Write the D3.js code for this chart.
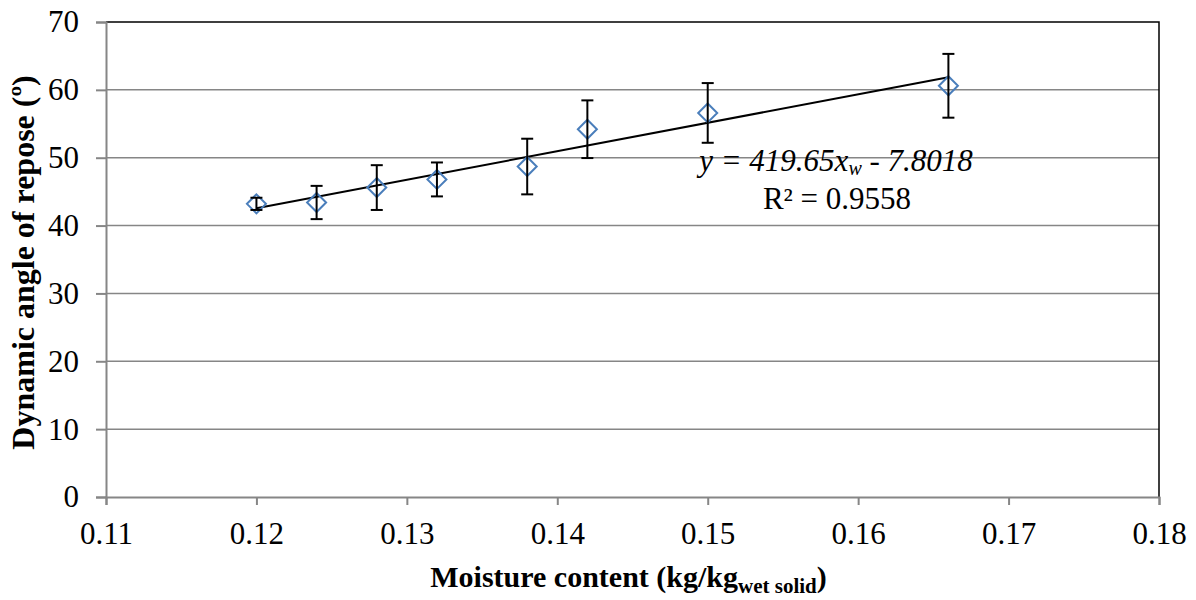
<!DOCTYPE html>
<html><head><meta charset="utf-8">
<script src="https://cdn.jsdelivr.net/npm/d3@7"></script>
<style>body{margin:0;background:#fff}svg{display:block}</style>
</head><body>
<script>
const moisture = [0.12, 0.124, 0.128, 0.132, 0.138, 0.142, 0.15, 0.166];
const angle = [43.2, 43.4, 45.6, 46.8, 48.7, 54.2, 56.6, 60.6];
const errorBar = [0.9, 2.45, 3.3, 2.5, 4.1, 4.25, 4.4, 4.7];
const slope = 419.65, intercept = -7.8018;
const xTicks = [0.11, 0.12, 0.13, 0.14, 0.15, 0.16, 0.17, 0.18];
const yTicks = [0, 10, 20, 30, 40, 50, 60, 70];

const W = 1196, H = 600;
const m = {left: 106, right: W - 1159, top: 22, bottom: H - 497};
const svg = d3.select("body").append("svg").attr("width", W).attr("height", H);
const x = d3.scaleLinear().domain([0.11, 0.18]).range([m.left, W - m.right]);
const y = d3.scaleLinear().domain([0, 70]).range([H - m.bottom, m.top]);
const font = "'Liberation Serif', 'Times New Roman', serif";
const gray = "#868686";

// gridlines
svg.append("g").selectAll("line").data(yTicks.filter(d => d > 0 && d < 70)).join("line")
  .attr("x1", x(0.11)).attr("x2", x(0.18)).attr("y1", d => y(d)).attr("y2", d => y(d))
  .attr("stroke", gray).attr("stroke-width", 1.5);

// border top/right black
svg.append("path").attr("d", `M${x(0.11)},${y(70)}H${x(0.18)}V${y(0)}`)
  .attr("fill", "none").attr("stroke", "#000").attr("stroke-width", 1.5);

// axes
const yAxis = svg.append("g").attr("transform", `translate(${x(0.11)},0)`)
  .call(d3.axisLeft(y).tickValues(yTicks).tickSize(10).tickPadding(17).tickFormat(d3.format("d")));
const xAxis = svg.append("g").attr("transform", `translate(0,${y(0)})`)
  .call(d3.axisBottom(x).tickValues(xTicks).tickSize(8).tickPadding(17).tickFormat(d3.format(".2f")));
[yAxis, xAxis].forEach(g => {
  g.attr("font-family", null).attr("font-size", null);
  g.select(".domain").attr("stroke", gray).attr("stroke-width", 2);
  g.selectAll(".tick line").attr("stroke", gray).attr("stroke-width", 2);
  g.selectAll("text").attr("fill", "#000").style("font-family", font).style("font-size", "31px");
});

// trendline
svg.append("line")
  .attr("x1", x(moisture[0])).attr("y1", y(slope * moisture[0] + intercept))
  .attr("x2", x(moisture[moisture.length - 1])).attr("y2", y(slope * moisture[moisture.length - 1] + intercept))
  .attr("stroke", "#000").attr("stroke-width", 2);

// markers
const pts = moisture.map((d, i) => ({x: d, y: angle[i], e: errorBar[i]}));
svg.append("g").selectAll("path").data(pts).join("path")
  .attr("d", d => { const cx = x(d.x), cy = y(d.y), r = 9.5;
    return `M${cx},${cy - r}L${cx + r},${cy}L${cx},${cy + r}L${cx - r},${cy}Z`; })
  .attr("fill", "none").attr("stroke", "#4a7ebb").attr("stroke-width", 2);

// error bars
const eb = svg.append("g").attr("stroke", "#000").attr("stroke-width", 2);
pts.forEach(d => {
  const cx = x(d.x);
  eb.append("line").attr("x1", cx).attr("x2", cx).attr("y1", y(d.y + d.e)).attr("y2", y(d.y - d.e));
  eb.append("line").attr("x1", cx - 6).attr("x2", cx + 6).attr("y1", y(d.y + d.e)).attr("y2", y(d.y + d.e));
  eb.append("line").attr("x1", cx - 6).attr("x2", cx + 6).attr("y1", y(d.y - d.e)).attr("y2", y(d.y - d.e));
});

// equation
const eq = svg.append("text").attr("x", 836).attr("y", 171).attr("text-anchor", "middle")
  .style("font-family", font).style("font-size", "31px").style("font-style", "italic");
eq.append("tspan").text("y = 419.65x");
eq.append("tspan").attr("dy", 4).style("font-size", "20px").text("w");
eq.append("tspan").attr("dy", -4).text(" - 7.8018");
svg.append("text").attr("x", 837).attr("y", 209).attr("text-anchor", "middle")
  .style("font-family", font).style("font-size", "31px").text("R² = 0.9558");

// axis titles
const xt = svg.append("text").attr("x", (x(0.11) + x(0.18)) / 2 - 4).attr("y", 587).attr("text-anchor", "middle")
  .style("font-family", font).style("font-size", "30px").style("font-weight", "bold");
xt.append("tspan").text("Moisture content (kg/kg");
xt.append("tspan").attr("dy", 6).style("font-size", "21px").text("wet solid");
xt.append("tspan").attr("dy", -6).text(")");

svg.append("text").attr("transform", `translate(34,${(y(0) + y(70)) / 2 + 3}) rotate(-90)`)
  .attr("text-anchor", "middle")
  .style("font-family", font).style("font-size", "32px").style("font-weight", "bold")
  .text("Dynamic angle of repose (º)");
</script>
</body></html>
